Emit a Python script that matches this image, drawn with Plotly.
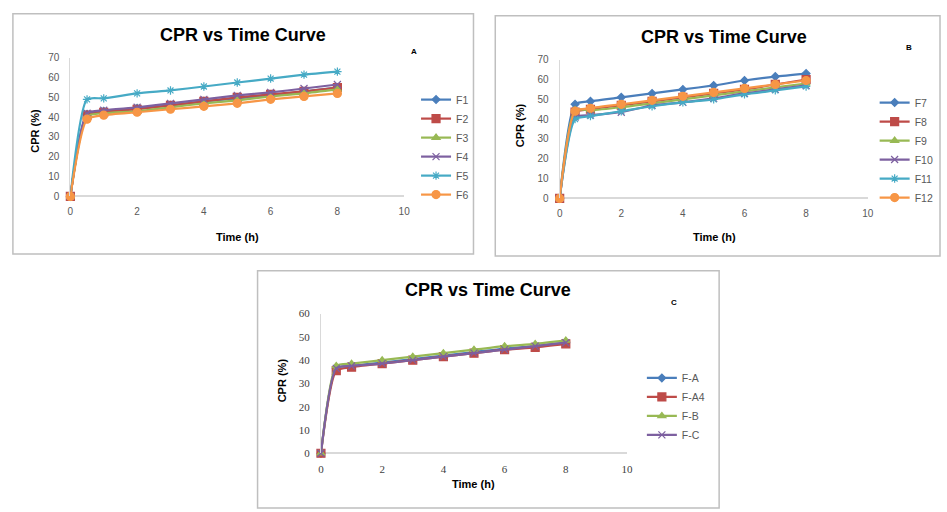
import plotly.graph_objects as go

W, H = 947, 512

time_h = [0, 0.5, 1, 2, 3, 4, 5, 6, 7, 8]

# Panel A
names_a = ["F1", "F2", "F3", "F4", "F5", "F6"]
F1 = [0, 41.5, 43.0, 44.5, 46.0, 48.0, 49.5, 51.0, 53.0, 55.0]
F2 = [0, 41.0, 42.5, 44.0, 46.0, 48.0, 50.0, 51.5, 53.0, 55.0]
F3 = [0, 40.5, 42.0, 43.0, 45.0, 47.0, 48.5, 50.5, 52.0, 54.0]
F4 = [0, 42.0, 43.5, 45.0, 47.0, 49.0, 51.0, 52.5, 54.5, 56.5]
F5 = [0, 49.0, 49.5, 52.0, 53.5, 55.5, 57.5, 59.5, 61.5, 63.0]
F6 = [0, 39.0, 41.0, 42.5, 44.0, 45.5, 47.0, 49.0, 50.5, 52.0]

# Panel B
names_b = ["F7", "F8", "F9", "F10", "F11", "F12"]
F7 = [0, 47.5, 49.0, 51.0, 53.0, 55.0, 57.0, 59.5, 61.5, 63.0]
F8 = [0, 43.5, 45.0, 47.0, 49.0, 51.0, 53.0, 55.0, 57.5, 60.0]
F9 = [0, 44.5, 44.5, 46.0, 48.0, 50.0, 52.0, 54.0, 56.0, 58.0]
F10 = [0, 41.0, 42.0, 43.5, 47.0, 48.5, 50.5, 53.0, 55.0, 57.0]
F11 = [0, 40.0, 41.5, 44.0, 46.5, 48.5, 50.0, 52.5, 54.5, 56.5]
F12 = [0, 44.0, 45.5, 47.5, 49.5, 51.5, 53.5, 55.5, 57.5, 59.5]

# Panel C
names_c = ["F-A", "F-A4", "F-B", "F-C"]
FA = [0, 36.5, 37.5, 39.0, 40.5, 42.0, 43.5, 45.0, 46.0, 47.5]
FA4 = [0, 35.5, 37.0, 38.5, 40.0, 41.5, 43.0, 44.5, 45.5, 47.0]
FB = [0, 37.5, 38.5, 40.0, 41.5, 43.0, 44.5, 46.0, 47.0, 48.5]
FC = [0, 36.5, 37.5, 38.5, 40.0, 41.5, 43.0, 44.5, 46.0, 47.5]

x_ticks = [0, 2, 4, 6, 8, 10]

colors = ["#4A7EBB", "#BE4B48", "#98B954", "#7D60A0", "#46AAC5", "#F79646"]
symbols = ["diamond", "square", "triangle-up", "x-thin-open", "asterisk-open", "circle"]
sizes = [6, 8, 7, 7, 7, 8]

def px(x):
    return x / W

def py(y):
    return 1 - y / H

fig = go.Figure()

def add_series(names, series, xa, ya, legend, color_idx):
    for n, vals, ci in zip(names, series, color_idx):
        fig.add_trace(go.Scatter(
            x=time_h, y=vals, name=n, mode="lines+markers",
            xaxis=xa, yaxis=ya, legend=legend, cliponaxis=False,
            line=dict(color=colors[ci], width=2.2, shape="spline", smoothing=0.6),
            marker=dict(symbol=symbols[ci], size=sizes[ci], color=colors[ci],
                        line=dict(color=colors[ci], width=1.2)),
        ))

add_series(names_a, [F1, F2, F3, F4, F5, F6], "x", "y", "legend", [0, 1, 2, 3, 4, 5])
add_series(names_b, [F7, F8, F9, F10, F11, F12], "x2", "y2", "legend2", [0, 1, 2, 3, 4, 5])
add_series(names_c, [FA, FA4, FB, FC], "x3", "y3", "legend3", [0, 1, 2, 3])

axis_line = "#D9D9D9"
sans = "Liberation Sans"
serif = "Liberation Serif"

def xaxis(dom, font):
    return dict(domain=dom, range=[0, 10], tickvals=x_ticks, showgrid=False,
                zeroline=False, showline=False, ticks="", ticklabelstandoff=8,
                tickfont=font, fixedrange=True)

def yaxis(dom, rng, dtick, font, anchor):
    return dict(domain=dom, range=rng, dtick=dtick, showgrid=False, zeroline=True,
                zerolinecolor=axis_line, zerolinewidth=1.5,
                showline=True, linecolor=axis_line, linewidth=1.2, ticks="",
                ticklabelstandoff=8, tickfont=font, anchor=anchor, fixedrange=True)

font_ab = dict(family=sans, size=10, color="#595959")
font_c = dict(family=serif, size=11, color="#404040")

layout = dict(
    width=W, height=H, margin=dict(l=0, r=0, t=0, b=0),
    paper_bgcolor="white", plot_bgcolor="white",
    xaxis=xaxis([px(68), px(405)], font_ab),
    yaxis=yaxis([py(195), py(53)], [0, 70], 10, font_ab, "x"),
    xaxis2=xaxis([px(562), px(873)], font_ab) | dict(anchor="y2"),
    yaxis2=yaxis([py(197), py(55)], [0, 70], 10, font_ab, "x2"),
    xaxis3=xaxis([px(321), px(630)], font_c) | dict(anchor="y3"),
    yaxis3=yaxis([py(458), py(315)], [0, 60], 10, font_c, "x3"),
    showlegend=True,
)

leg_font = dict(family=sans, size=10.5, color="#595959")
layout["legend"] = dict(x=px(417), y=py(81), xanchor="left", yanchor="top",
                        font=leg_font, itemwidth=30, bgcolor="rgba(0,0,0,0)")
layout["legend2"] = dict(x=px(880), y=py(84), xanchor="left", yanchor="top",
                         font=leg_font, itemwidth=30, bgcolor="rgba(0,0,0,0)")
layout["legend3"] = dict(x=px(645), y=py(366), xanchor="left", yanchor="top",
                         font=leg_font, itemwidth=30, bgcolor="rgba(0,0,0,0)")

fig.update_layout(**layout)

frame = "#BFBFBF"
shapes = [
    dict(type="rect", xref="paper", yref="paper", x0=px(10), x1=px(475), y0=py(254), y1=py(8),
         line=dict(color=frame, width=1.5)),
    dict(type="rect", xref="paper", yref="paper", x0=px(497), x1=px(946), y0=py(256), y1=py(10),
         line=dict(color=frame, width=1.5)),
    dict(type="rect", xref="paper", yref="paper", x0=px(257), x1=px(723), y0=py(514), y1=py(271),
         line=dict(color=frame, width=1.5)),
]
fig.update_layout(shapes=shapes)

def ann(text, x, y, size, angle=0, bold=True, color="#000000"):
    fig.add_annotation(text=f"<b>{text}</b>" if bold else text, x=px(x), y=py(y),
                       xref="paper", yref="paper", showarrow=False, textangle=angle,
                       font=dict(family=sans, size=size, color=color),
                       xanchor="center", yanchor="middle")

title = "CPR vs Time Curve"
ann(title, 242, 30, 18)
ann(title, 728, 32, 18)
ann(title, 490, 291, 18)

ann("CPR (%)", 32, 128, 11, angle=-90)
ann("CPR (%)", 522, 122, 11, angle=-90)
ann("CPR (%)", 282, 383, 11, angle=-90)
ann("Time (h)", 237, 237, 11)
ann("Time (h)", 718, 237, 11)
ann("Time (h)", 475, 489, 11)

ann("A", 415, 47, 8)
ann("B", 915, 43, 8)
ann("C", 677, 304, 8)

fig.write_html("out.html")
